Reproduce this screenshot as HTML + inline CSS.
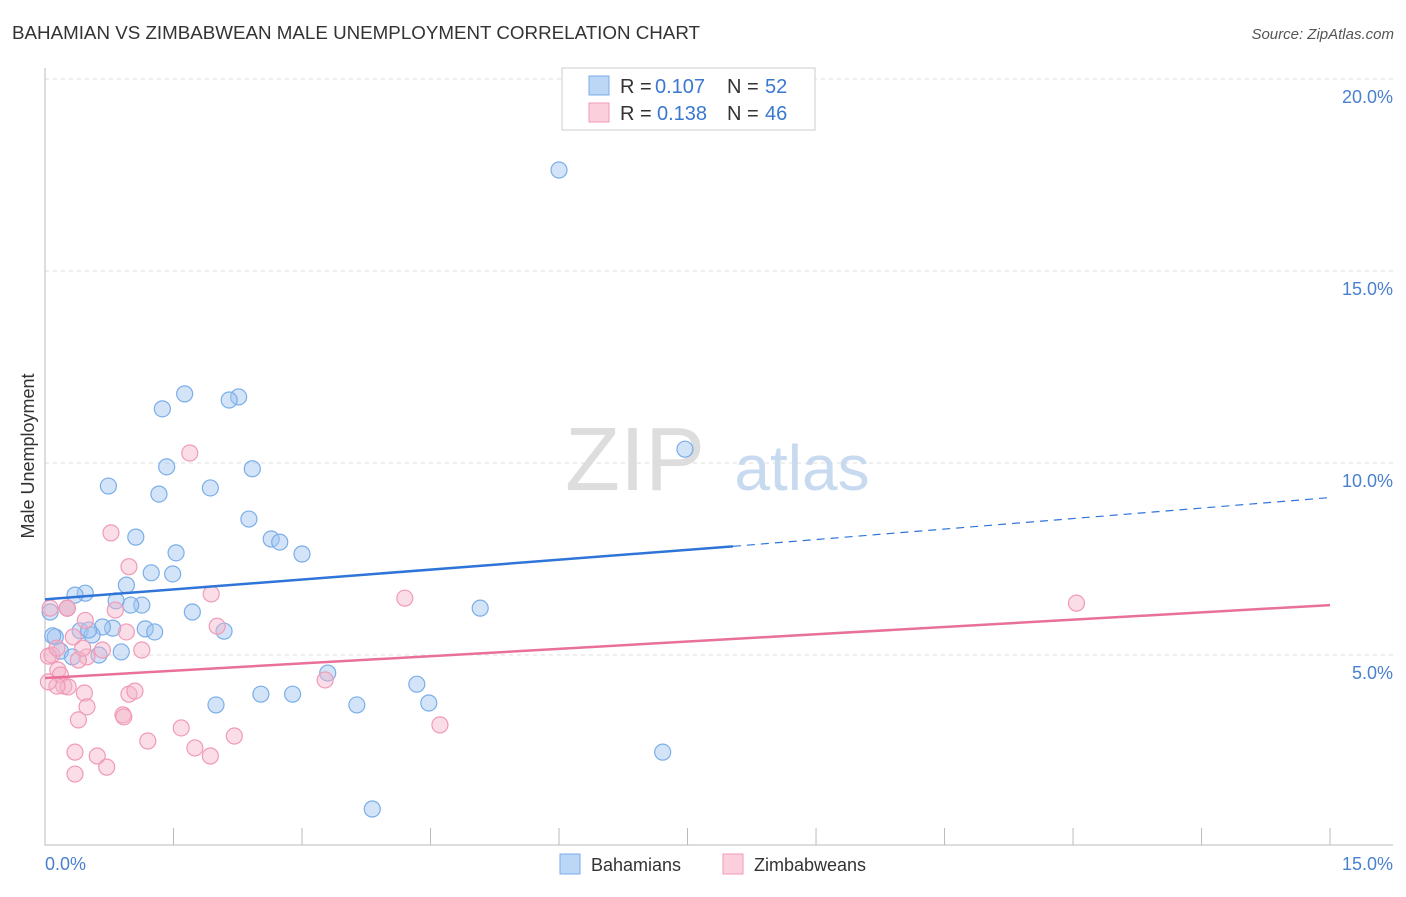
<!DOCTYPE html>
<html><head><meta charset="utf-8"><style>
body{margin:0;background:#fff;font-family:"Liberation Sans",sans-serif;}
svg text{font-family:"Liberation Sans",sans-serif;}
</style></head><body>
<svg width="1406" height="892">
<text x="12" y="39" font-size="18" fill="#333" textLength="688" lengthAdjust="spacingAndGlyphs">BAHAMIAN VS ZIMBABWEAN MALE UNEMPLOYMENT CORRELATION CHART</text>
<text x="1394" y="39" font-size="15" fill="#555" text-anchor="end" font-style="italic">Source: ZipAtlas.com</text>
<g id="grid"></g>
<text x="635" y="490" font-size="90" fill="#ddd" font-family="Liberation Serif" text-anchor="middle">ZIP</text>
<text x="802" y="490" font-size="64" fill="#c8daf0" text-anchor="middle">atlas</text>
<g id="marks"></g>
<text x="34" y="456" font-size="18" fill="#333" text-anchor="middle" transform="rotate(-90 34 456)">Male Unemployment</text>
<text x="45" y="870" font-size="18" fill="#4a80d0">0.0%</text>
<text x="1393" y="870" font-size="18" fill="#4a80d0" text-anchor="end">15.0%</text>
<g>
<rect x="562" y="68" width="253" height="62" fill="#fff" stroke="#ccc"/>
<rect x="589" y="76" width="20" height="19" fill="#bcd6f6" stroke="#7aaee8"/>
<text x="620" y="93" font-size="20" fill="#333">R =</text>
<text x="655" y="93" font-size="20" fill="#3a78d0">0.107</text>
<text x="727" y="93" font-size="20" fill="#333">N =</text>
<text x="765" y="93" font-size="20" fill="#3a78d0">52</text>
<rect x="589" y="103" width="20" height="19" fill="#fbd0dc" stroke="#f09ab8"/>
<text x="620" y="120" font-size="20" fill="#333">R =</text>
<text x="657" y="120" font-size="20" fill="#3a78d0">0.138</text>
<text x="727" y="120" font-size="20" fill="#333">N =</text>
<text x="765" y="120" font-size="20" fill="#3a78d0">46</text>
</g>
<g>
<rect x="560" y="854" width="20" height="20" fill="#bcd6f6" stroke="#7aaee8"/>
<text x="591" y="871" font-size="18" fill="#333">Bahamians</text>
<rect x="723" y="854" width="20" height="20" fill="#fbd0dc" stroke="#f09ab8"/>
<text x="754" y="871" font-size="18" fill="#333">Zimbabweans</text>
</g>
</svg>
<script>
const yTicks=[5,10,15,20];
const xTickVals=[0,1.5,3,4.5,6,7.5,9,10.5,12,13.5,15];
const blueX=[6.0,7.47,1.63,1.37,2.26,2.15,1.42,2.42,0.74,1.33,1.93,2.38,1.06,2.64,2.74,3.0,1.53,1.24,1.49,0.95,0.47,0.35,0.83,1.13,1.0,0.26,0.06,1.72,5.08,1.17,1.28,2.09,0.79,0.67,0.41,0.55,0.51,0.12,0.18,0.89,0.32,3.3,0.63,4.34,2.52,2.89,4.48,1.996,3.64,7.21,3.82,0.09];
const blueY=[17.63,10.36,11.8,11.41,11.72,11.64,9.9,9.85,9.4,9.19,9.35,8.54,8.07,8.02,7.94,7.63,7.66,7.14,7.11,6.82,6.61,6.56,6.41,6.3,6.3,6.22,6.12,6.12,6.22,5.68,5.6,5.62,5.7,5.73,5.63,5.52,5.65,5.47,5.1,5.08,4.95,4.53,5.0,4.24,3.98,3.98,3.75,3.7,3.7,2.47,0.99,5.5];
const pinkX=[1.69,0.77,0.98,1.94,4.2,12.04,0.82,0.26,0.47,2.01,0.95,0.33,0.67,1.13,0.49,0.39,0.08,0.15,0.18,3.27,0.22,0.27,0.14,0.46,0.98,1.05,0.49,0.91,0.92,0.39,1.59,4.61,1.2,2.21,1.75,0.35,0.61,1.93,0.72,0.35,0.06,0.04,0.26,0.14,0.04,0.44];
const pinkY=[10.26,8.18,7.3,6.59,6.48,6.35,6.17,6.22,5.9,5.75,5.6,5.47,5.13,5.13,4.95,4.87,5.0,4.61,4.48,4.35,4.19,4.17,4.19,4.01,3.98,4.06,3.65,3.44,3.39,3.31,3.1,3.18,2.76,2.89,2.58,2.47,2.37,2.37,2.08,1.9,6.22,4.97,6.22,5.18,4.3,5.18];
const X=v=>45+v*85.67, Y=v=>847-v*38.4;
const NS='http://www.w3.org/2000/svg';
const grid=document.getElementById('grid'), marks=document.getElementById('marks');
function mk(tag,at,parent){const e=document.createElementNS(NS,tag);for(const k in at)e.setAttribute(k,at[k]);parent.appendChild(e);return e;}
yTicks.forEach(t=>{
 const l=mk('line',{x1:45,x2:1393,y1:Y(t),y2:Y(t),stroke:'#ddd','stroke-dasharray':'4,4'},grid);
 
 
 const tx=mk('text',{x:1393,y:Y(t)+24,'font-size':18,fill:'#4a80d0','text-anchor':'end'},grid);
 tx.textContent=t.toFixed(1)+'%';
 
 
});
const ax=mk('path',{d:'M45 68V845H1393',fill:'none',stroke:'#bbb'},grid);


xTickVals.forEach(t=>{
 const l=mk('line',{x1:X(t),x2:X(t),y1:828,y2:845,stroke:'#bbb'},grid);
 
 
});
function pts(xs,ys,fill,stroke,name){xs.forEach((x,i)=>{
 const c=mk('circle',{cx:X(x),cy:Y(ys[i]),r:8,fill:fill,stroke:stroke,'stroke-width':1.2},marks);
 
 
});}
pts(blueX,blueY,'rgba(160,196,240,0.45)','#7aaee8','bahamian-point');
pts(pinkX,pinkY,'rgba(245,180,200,0.45)','#f09ab8','zimbabwean-point');
const b1=mk('line',{x1:X(0),y1:Y(6.45),x2:X(8.03),y2:Y(7.83),stroke:'#2f74d8','stroke-width':2.5},marks);


const b2=mk('line',{x1:X(8.03),y1:Y(7.83),x2:X(15),y2:Y(9.1),stroke:'#2f74d8','stroke-width':1.2,'stroke-dasharray':'8,6'},marks);


const p1=mk('line',{x1:X(0),y1:Y(4.4),x2:X(15),y2:Y(6.3),stroke:'#e8709a','stroke-width':2.5},marks);


</script>
</body></html>
